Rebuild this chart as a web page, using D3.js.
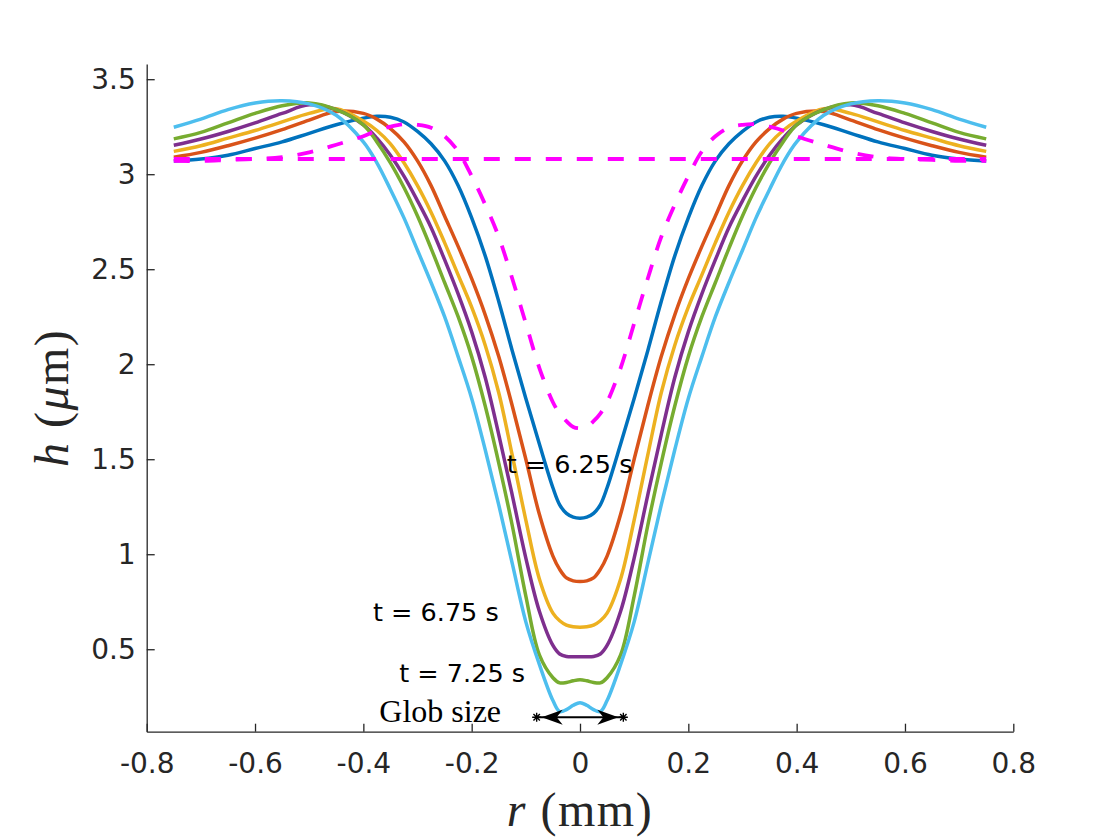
<!DOCTYPE html>
<html>
<head>
<meta charset="utf-8">
<script src="https://cdn.jsdelivr.net/npm/d3@7"></script>
<style>
  body { margin: 0; background: #fff; }
</style>
</head>
<body>
<div id="chart"></div>
<script>
// radial position (mm)
const r = [-0.75, -0.7, -0.65, -0.6, -0.55, -0.5, -0.45, -0.4, -0.375, -0.35, -0.325, -0.3, -0.275, -0.25, -0.225, -0.2, -0.175, -0.15, -0.125, -0.1, -0.075, -0.05, -0.0375, -0.025, -0.0125,
  0, 0.0125, 0.025, 0.0375, 0.05, 0.075, 0.1, 0.125, 0.15, 0.175, 0.2, 0.225, 0.25, 0.275, 0.3, 0.325, 0.35, 0.375, 0.4, 0.45, 0.5, 0.55, 0.6, 0.65, 0.7, 0.75];

// film thickness h (um), one array per time step
const hBlue = [3.07, 3.08, 3.10, 3.135, 3.17, 3.215, 3.26, 3.295, 3.305, 3.30, 3.275, 3.225, 3.16, 3.07, 2.94, 2.77, 2.57, 2.33, 2.07, 1.82, 1.58, 1.35, 1.26, 1.215, 1.195,
  1.19, 1.195, 1.215, 1.26, 1.35, 1.58, 1.82, 2.07, 2.33, 2.57, 2.77, 2.94, 3.07, 3.16, 3.225, 3.275, 3.30, 3.305, 3.295, 3.26, 3.215, 3.17, 3.135, 3.10, 3.08, 3.07];
const hOrange = [3.09, 3.115, 3.15, 3.19, 3.235, 3.285, 3.33, 3.32, 3.29, 3.24, 3.17, 3.07, 2.94, 2.78, 2.62, 2.45, 2.26, 2.04, 1.78, 1.50, 1.21, 0.99, 0.92, 0.875, 0.86,
  0.856, 0.86, 0.875, 0.92, 0.99, 1.21, 1.50, 1.78, 2.04, 2.26, 2.45, 2.62, 2.78, 2.94, 3.07, 3.17, 3.24, 3.29, 3.32, 3.33, 3.285, 3.235, 3.19, 3.15, 3.115, 3.09];
const hYellow = [3.12, 3.15, 3.19, 3.23, 3.275, 3.32, 3.345, 3.28, 3.23, 3.16, 3.06, 2.94, 2.80, 2.64, 2.47, 2.30, 2.10, 1.85, 1.52, 1.18, 0.87, 0.69, 0.65, 0.627, 0.618,
  0.616, 0.618, 0.627, 0.65, 0.69, 0.87, 1.18, 1.52, 1.85, 2.10, 2.30, 2.47, 2.64, 2.80, 2.94, 3.06, 3.16, 3.23, 3.28, 3.345, 3.32, 3.275, 3.23, 3.19, 3.15, 3.12];
const hPurple = [3.152, 3.185, 3.225, 3.27, 3.32, 3.365, 3.34, 3.26, 3.19, 3.10, 2.99, 2.86, 2.72, 2.55, 2.37, 2.17, 1.93, 1.63, 1.31, 0.98, 0.70, 0.52, 0.475, 0.462, 0.46,
  0.46, 0.46, 0.462, 0.475, 0.52, 0.70, 0.98, 1.31, 1.63, 1.93, 2.17, 2.37, 2.55, 2.72, 2.86, 2.99, 3.10, 3.19, 3.26, 3.34, 3.365, 3.32, 3.27, 3.225, 3.185, 3.152];
const hGreen = [3.186, 3.22, 3.27, 3.32, 3.36, 3.375, 3.34, 3.26, 3.17, 3.06, 2.93, 2.78, 2.61, 2.43, 2.25, 2.04, 1.78, 1.48, 1.15, 0.78, 0.47, 0.35, 0.323, 0.325, 0.334,
  0.339, 0.334, 0.325, 0.323, 0.35, 0.47, 0.78, 1.15, 1.48, 1.78, 2.04, 2.25, 2.43, 2.61, 2.78, 2.93, 3.06, 3.17, 3.26, 3.34, 3.375, 3.36, 3.32, 3.27, 3.22, 3.186];
const hCyan = [3.247, 3.29, 3.34, 3.375, 3.387, 3.37, 3.31, 3.17, 3.06, 2.92, 2.77, 2.60, 2.43, 2.25, 2.04, 1.82, 1.55, 1.26, 0.95, 0.644, 0.42, 0.23, 0.172, 0.182, 0.205,
  0.219, 0.205, 0.182, 0.172, 0.23, 0.42, 0.644, 0.95, 1.26, 1.55, 1.82, 2.04, 2.25, 2.43, 2.60, 2.77, 2.92, 3.06, 3.17, 3.31, 3.37, 3.387, 3.375, 3.34, 3.29, 3.247];

// dashed magenta reference profiles
const hDip = [3.07, 3.07, 3.075, 3.08, 3.09, 3.115, 3.155, 3.20, 3.23, 3.25, 3.263, 3.26, 3.245, 3.20, 3.12, 2.99, 2.84, 2.67, 2.45, 2.215, 1.98, 1.80, 1.74, 1.70, 1.67,
  1.663, 1.67, 1.70, 1.74, 1.80, 1.98, 2.215, 2.45, 2.67, 2.84, 2.99, 3.12, 3.20, 3.245, 3.26, 3.263, 3.25, 3.23, 3.20, 3.155, 3.115, 3.09, 3.08, 3.075, 3.07, 3.07];
const rFlat = [-0.75, 0.75];
const hFlat = [3.08, 3.08];

// glob size arrow
const globR = [-0.08, 0.08];
const globH = 0.142;

// ticks
const xTicks = [-0.8, -0.6, -0.4, -0.2, 0, 0.2, 0.4, 0.6, 0.8];
const yTicks = [0.5, 1, 1.5, 2, 2.5, 3, 3.5];

// text labels: [text, r, h] (left edge, baseline)
const labels = [
  ["t = 6.25 s", -0.1353, 1.429],
  ["t = 6.75 s", -0.3822, 0.650],
  ["t = 7.25 s", -0.3337, 0.329]
];
const globLabel = ["Glob size", -0.3705, 0.119];

const W = 1120, H = 840;
const plotLeft = 146.7, plotRight = 1013.3, plotTop = 64, plotBottom = 731.7;

let svg = d3.select("#chart").append("svg")
    .attr("width", W)
    .attr("height", H);

svg.append("rect").attr("width", W).attr("height", H).attr("fill", "#fff");

let x = d3.scaleLinear().domain([-0.8, 0.8]).range([plotLeft, plotRight]);
let y = d3.scaleLinear().domain([0.066, 3.58]).range([plotBottom, plotTop]);

// axes, MATLAB style: ticks pointing inward, no box
let xAxis = svg.append("g")
    .attr("transform", "translate(0," + plotBottom + ")")
    .call(d3.axisBottom(x).tickValues(xTicks).tickFormat(d => String(d))
        .tickSizeInner(-8).tickSizeOuter(0).tickPadding(21));

let yAxis = svg.append("g")
    .attr("transform", "translate(" + plotLeft + ",0)")
    .call(d3.axisLeft(y).tickValues(yTicks).tickFormat(d => String(d))
        .tickSizeInner(-8).tickSizeOuter(0).tickPadding(11));

[xAxis, yAxis].forEach(function (g) {
    g.select(".domain").attr("stroke", "#262626").attr("stroke-width", 1.3);
    g.selectAll(".tick line").attr("stroke", "#262626").attr("stroke-width", 1.3);
    g.selectAll(".tick text")
        .attr("fill", "#262626")
        .style("font-family", "'DejaVu Sans', sans-serif")
        .style("font-size", "28px");
});

// axis labels
let xLabel = svg.append("text")
    .attr("x", (plotLeft + plotRight) / 2)
    .attr("y", 826)
    .attr("text-anchor", "middle")
    .style("font-family", "'Liberation Serif', serif")
    .style("font-size", "48px")
    .style("letter-spacing", "1.5px")
    .attr("fill", "#262626");
xLabel.append("tspan").attr("font-style", "italic").text("r");
xLabel.append("tspan").text(" (mm)");

let yLabel = svg.append("text")
    .attr("transform", "translate(68," + ((plotTop + plotBottom) / 2) + ") rotate(-90)")
    .attr("text-anchor", "middle")
    .style("font-family", "'Liberation Serif', serif")
    .style("font-size", "48px")
    .style("letter-spacing", "1.5px")
    .attr("fill", "#262626");
yLabel.append("tspan").attr("font-style", "italic").text("h");
yLabel.append("tspan").text(" (");
yLabel.append("tspan").attr("font-style", "italic").text("μ");
yLabel.append("tspan").text("m)");

// profiles
const series = [
    {h: hBlue, color: "#0072BD"},
    {h: hOrange, color: "#D95319"},
    {h: hYellow, color: "#EDB120"},
    {h: hPurple, color: "#7E2F8E"},
    {h: hGreen, color: "#77AC30"},
    {h: hCyan, color: "#4DBEEE"}
];

let line = d3.line()
    .x(function (d, i) { return x(r[i]); })
    .y(function (d) { return y(d); })
    .curve(d3.curveCatmullRom.alpha(0.5));

series.forEach(function (s) {
    svg.append("path")
        .datum(s.h)
        .attr("fill", "none")
        .attr("stroke", s.color)
        .attr("stroke-width", 3.5)
        .attr("stroke-linejoin", "round")
        .attr("d", line);
});

// dashed magenta curves
svg.append("path")
    .datum(hDip)
    .attr("fill", "none")
    .attr("stroke", "#FF00FF")
    .attr("stroke-width", 3.8)
    .attr("stroke-dasharray", "16,15")
    .attr("d", line);

svg.append("path")
    .datum(hFlat)
    .attr("fill", "none")
    .attr("stroke", "#FF00FF")
    .attr("stroke-width", 3.8)
    .attr("stroke-dasharray", "16,15")
    .attr("d", d3.line()
        .x(function (d, i) { return x(rFlat[i]); })
        .y(function (d) { return y(d); }));

// time labels
labels.forEach(function (l) {
    svg.append("text")
        .attr("x", x(l[1]))
        .attr("y", y(l[2]))
        .style("font-family", "'DejaVu Sans', sans-serif")
        .style("font-size", "25.5px")
        .attr("fill", "#000")
        .text(l[0]);
});

// glob size arrow
let ay = y(globH);
let ax0 = x(globR[0]), ax1 = x(globR[1]);
svg.append("line")
    .attr("x1", ax0).attr("x2", ax1)
    .attr("y1", ay).attr("y2", ay)
    .attr("stroke", "#000").attr("stroke-width", 2.2);

[[ax0 + 5, 1], [ax1 - 5, -1]].forEach(function (a) {
    let tx = a[0], s = a[1];
    svg.append("path")
        .attr("d", "M" + tx + "," + ay +
            "L" + (tx + s * 21) + "," + (ay - 7.5) +
            "L" + (tx + s * 15) + "," + ay +
            "L" + (tx + s * 21) + "," + (ay + 7.5) + "Z")
        .attr("fill", "#000");
});

// asterisk markers at arrow ends
globR.forEach(function (gr) {
    let cx = x(gr), k = 4.5, d = 3.2;
    svg.append("path")
        .attr("d", "M" + (cx - k) + "," + ay + "L" + (cx + k) + "," + ay +
            "M" + cx + "," + (ay - k) + "L" + cx + "," + (ay + k) +
            "M" + (cx - d) + "," + (ay - d) + "L" + (cx + d) + "," + (ay + d) +
            "M" + (cx - d) + "," + (ay + d) + "L" + (cx + d) + "," + (ay - d))
        .attr("stroke", "#000")
        .attr("stroke-width", 1.4)
        .attr("fill", "none");
});

svg.append("text")
    .attr("x", x(globLabel[1]))
    .attr("y", y(globLabel[2]))
    .style("font-family", "'Liberation Serif', serif")
    .style("font-size", "32px")
    .attr("fill", "#000")
    .text(globLabel[0]);
</script>
</body>
</html>
